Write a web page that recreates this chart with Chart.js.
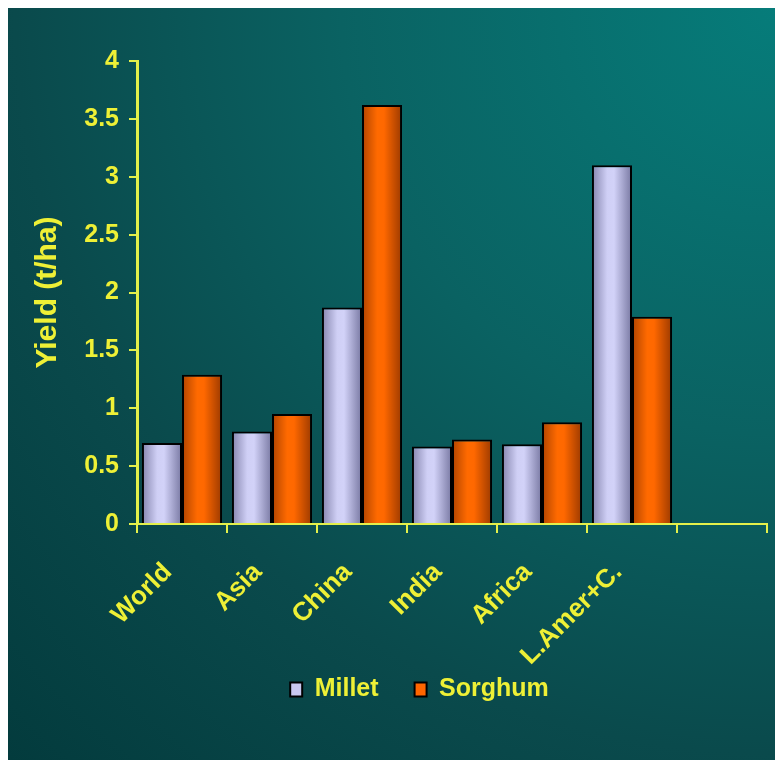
<!DOCTYPE html>
<html>
<head>
<meta charset="utf-8">
<script src="https://cdn.jsdelivr.net/npm/chart.js@4.4.1/dist/chart.umd.min.js"></script>
<style>
  html, body { margin: 0; padding: 0; background: #ffffff; }
  #wrap { position: relative; width: 775px; height: 760px; overflow: hidden; }
  #bg {
    position: absolute; left: 8px; top: 8px; width: 767px; height: 752px;
    background: radial-gradient(ellipse farthest-corner at 100% 0%,
      #067c7a 0%, #0a6262 40%, #0a4a4c 70%, #033b3d 100%);
  }
  canvas { position: absolute; left: 0; top: 0; }
</style>
</head>
<body>
<div id="wrap"><div id="bg"></div><canvas id="chart" width="775" height="760"></canvas></div>
<script>
// Yields by region (t/ha); the last category is an empty slot on the axis
const categories = ['World', 'Asia', 'China', 'India', 'Africa', 'L.Amer+C.', ''];
const milletYield = [0.70, 0.80, 1.87, 0.67, 0.69, 3.10];
const sorghumYield = [1.29, 0.95, 3.62, 0.73, 0.88, 1.79];
const seriesNames = ['Millet', 'Sorghum'];

const YELLOW = '#eef036';
const AXIS = '#e4f04a';
const FONT = '"Liberation Sans", Arial, sans-serif';
const CAT_PCT = 0.89;

// cylinder-style shading across each bar
const shades = [
  ['#8585ae', '#cfcff5', '#d2d2f8', '#7878a2'],
  ['#b04400', '#ff6a00', '#ff6800', '#9c3a00']
];
const solid = ['#c8c8f0', '#ff6600'];

function barFill(ctx) {
  const i = ctx.datasetIndex;
  const chart = ctx.chart;
  const xs = chart.scales && chart.scales.x;
  if (ctx.type !== 'data' || !xs || !xs.width) return solid[i];
  const slot = xs.width / categories.length;
  const barW = slot * CAT_PCT / 2;
  const center = xs.getPixelForValue(ctx.dataIndex);
  const left = i === 0 ? center - barW : center;
  const g = chart.ctx.createLinearGradient(left, 0, left + barW, 0);
  const s = shades[i];
  g.addColorStop(0, s[0]);
  g.addColorStop(0.38, s[1]);
  g.addColorStop(0.55, s[2]);
  g.addColorStop(1, s[3]);
  return g;
}

// nudge the legend row right of the canvas centre and up under the labels
const legendShift = {
  id: 'legendShift',
  afterLayout(chart) {
    const lg = chart.legend;
    if (lg) {
      lg.left += 32; lg.right += 32;
      lg.top -= 33; lg.bottom -= 33;
    }
  }
};

new Chart(document.getElementById('chart'), {
  type: 'bar',
  data: {
    labels: categories,
    datasets: [
      { label: seriesNames[0], data: milletYield, backgroundColor: barFill,
        borderColor: '#000', borderWidth: 2, borderSkipped: 'start' },
      { label: seriesNames[1], data: sorghumYield, backgroundColor: barFill,
        borderColor: '#000', borderWidth: 2, borderSkipped: 'start' }
    ]
  },
  options: {
    responsive: false,
    animation: false,
    datasets: { bar: { categoryPercentage: CAT_PCT, barPercentage: 1 } },
    layout: { padding: { top: 61, left: 8, right: 8, bottom: 15 } },
    plugins: {
      tooltip: { enabled: false },
      legend: {
        position: 'bottom',
        labels: {
          color: YELLOW,
          font: { family: FONT, size: 25, weight: 'bold' },
          boxWidth: 12, boxHeight: 14, padding: 36,
          generateLabels: chart => chart.data.datasets.map((ds, i) => ({
            text: ds.label, fillStyle: solid[i], strokeStyle: '#000', lineWidth: 2,
            fontColor: YELLOW, datasetIndex: i, hidden: false
          }))
        }
      }
    },
    scales: {
      x: {
        offset: true,
        grid: { offset: true, drawOnChartArea: false, drawTicks: true, tickLength: 9, color: AXIS, lineWidth: 2 },
        border: { color: AXIS, width: 2 },
        ticks: {
          color: YELLOW, autoSkip: false, maxRotation: 45, minRotation: 45,
          padding: 24, labelOffset: -14,
          font: { family: FONT, size: 26, weight: 'bold' }
        },
        afterFit: s => { s.height = 150; }
      },
      y: {
        min: 0, max: 4,
        ticks: {
          stepSize: 0.5, color: YELLOW, padding: 10,
          font: { family: FONT, size: 25, weight: 'bold' },
          callback: v => String(v)
        },
        grid: { drawOnChartArea: false, drawTicks: true, tickLength: 8, color: AXIS, lineWidth: 2 },
        border: { color: AXIS, width: 3 },
        title: {
          display: true, text: 'Yield (t/ha)', color: YELLOW,
          font: { family: FONT, size: 30, weight: 'bold' },
          padding: { top: 22, bottom: 4 }
        },
        afterFit: s => { s.width = 129; }
      }
    }
  },
  plugins: [legendShift]
});
</script>
</body>
</html>
